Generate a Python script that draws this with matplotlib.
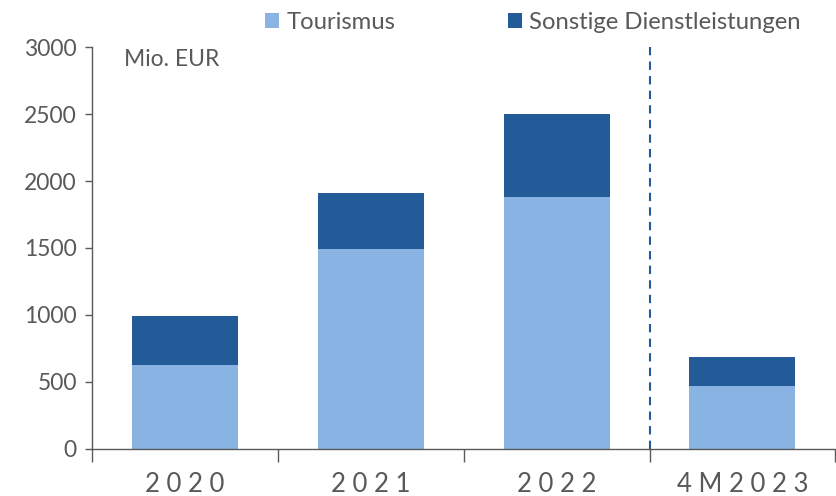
import matplotlib.pyplot as plt
from matplotlib.ticker import FixedLocator

categories = ["2020", "2021", "2022", "4M2023"]
tourismus = [625, 1490, 1880, 470]
sonstige = [365, 420, 620, 215]
y_ticks = [0, 500, 1000, 1500, 2000, 2500, 3000]

light = "#88B3E3"
dark = "#235A98"
grey = "#595959"

plt.rcParams["font.family"] = ["Lato", "DejaVu Sans"]

fig = plt.figure(figsize=(8.37, 4.96), dpi=100)
ax = fig.add_axes([0.110, 0.095, 0.888, 0.810])

x = range(len(categories))
ax.bar(x, tourismus, width=0.57, color=light, label="Tourismus")
ax.bar(x, sonstige, width=0.57, bottom=tourismus, color=dark,
       label="Sonstige Dienstleistungen")

ax.axvline(2.5, color=dark, linestyle=(0, (4, 3)), linewidth=1.5)

ax.set_xlim(-0.5, 3.5)
ax.set_ylim(0, 3000)
ax.set_yticks(y_ticks)
ax.set_xticks(list(x))
ax.set_xticklabels([" ".join(c) for c in categories])
ax.xaxis.set_minor_locator(FixedLocator([-0.5, 0.5, 1.5, 2.5, 3.5]))
ax.tick_params(axis="x", which="major", length=0, pad=17, labelsize=18.5,
               colors=grey)
ax.tick_params(axis="x", which="minor", length=9, width=1, color=grey)
ax.tick_params(axis="y", length=5, width=1, color=grey, labelsize=16.5,
               labelcolor=grey, pad=6)

for s in ["top", "right"]:
    ax.spines[s].set_visible(False)
for s in ["left", "bottom"]:
    ax.spines[s].set_color(grey)
    ax.spines[s].set_linewidth(1)

ax.text(0.043, 0.97, "Mio. EUR", transform=ax.transAxes, fontsize=16.5,
        color=grey, va="center", ha="left")

leg = fig.legend(loc="upper left", bbox_to_anchor=(0.291, 1.02), ncol=2,
                 frameon=False, fontsize=17.2, handlelength=0.6,
                 handleheight=0.6, handletextpad=0.3, columnspacing=4.7)
for t in leg.get_texts():
    t.set_color(grey)

fig.savefig("out.png", dpi=100)
